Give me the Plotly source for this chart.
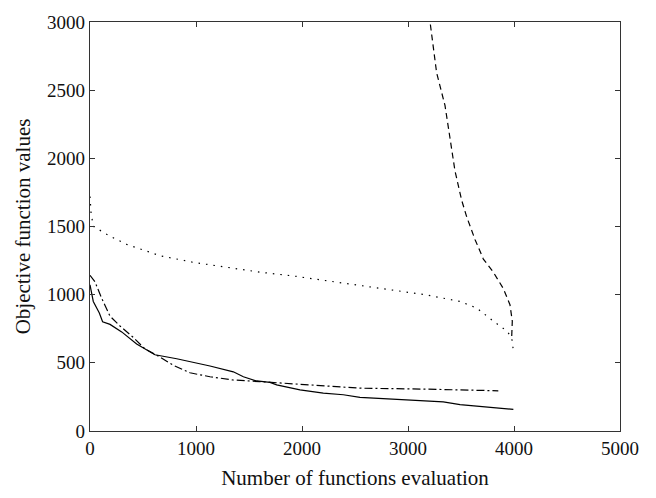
import plotly.graph_objects as go

# Solid line
solid_x = [0, 31, 88, 119, 189, 299, 440, 613, 818, 1132, 1352, 1447, 1572, 1698, 1761, 1918, 1981, 2201, 2390, 2547, 3333, 3491, 3994]
solid_y = [1072, 950, 866, 801, 782, 727, 638, 559, 530, 477, 434, 398, 367, 357, 338, 314, 302, 278, 266, 247, 213, 194, 158]

# Dash-dot line
dashdot_x = [0, 47, 110, 189, 283, 409, 519, 660, 786, 943, 1132, 1352, 1604, 1918, 2233, 2547, 3176, 3852]
dashdot_y = [1142, 1094, 974, 842, 770, 686, 602, 542, 482, 427, 398, 374, 362, 345, 331, 314, 307, 295]

# Dotted line
dotted_x = [0, 10, 31, 189, 346, 660, 975, 1289, 1604, 1918, 2233, 2547, 2925, 3176, 3491, 3648, 3805, 3931, 3978, 3994]
dotted_y = [1720, 1600, 1501, 1429, 1369, 1286, 1237, 1201, 1165, 1137, 1101, 1070, 1027, 998, 950, 902, 806, 734, 686, 590]

# Dashed line
dashed_x = [3180, 3208, 3270, 3349, 3396, 3443, 3506, 3553, 3632, 3711, 3805, 3899, 3962, 3984, 3978]
dashed_y = [3200, 3000, 2628, 2388, 2149, 1909, 1693, 1573, 1405, 1261, 1165, 1045, 926, 806, 686]

x_ticks = [0, 1000, 2000, 3000, 4000, 5000]
y_ticks = [0, 500, 1000, 1500, 2000, 2500, 3000]

FONT = "Liberation Serif"
lw = 1.2

fig = go.Figure()
fig.add_trace(go.Scatter(x=solid_x, y=solid_y, mode="lines",
                         line=dict(color="black", width=lw)))
fig.add_trace(go.Scatter(x=dashdot_x, y=dashdot_y, mode="lines",
                         line=dict(color="black", width=lw, dash="8px,3px,2px,3px")))
fig.add_trace(go.Scatter(x=dotted_x, y=dotted_y, mode="lines",
                         line=dict(color="black", width=lw, dash="1.5px,6px")))
fig.add_trace(go.Scatter(x=dashed_x, y=dashed_y, mode="lines",
                         line=dict(color="black", width=lw, dash="6px,4px")))

axis_common = dict(
    showgrid=False, zeroline=False, showline=True, linecolor="#333", linewidth=1.2,
    mirror="ticks", ticks="inside", ticklen=5, tickcolor="#333", tickwidth=1,
    tickfont=dict(family=FONT, size=19, color="#111"),
)

fig.update_layout(
    width=656, height=498,
    margin=dict(l=90, r=36, t=15, b=66),
    paper_bgcolor="white", plot_bgcolor="white",
    showlegend=False,
    font=dict(family=FONT, size=19, color="#111"),
    xaxis=dict(range=[0, 5000], tickvals=x_ticks, ticktext=[str(v) for v in x_ticks],
               title=dict(text="Number of functions evaluation", standoff=12,
                          font=dict(family=FONT, size=21)),
               **axis_common),
    yaxis=dict(range=[0, 3000], tickvals=y_ticks, ticktext=[str(v) for v in y_ticks],
               title=dict(text="Objective function values", standoff=10,
                          font=dict(family=FONT, size=21)),
               **axis_common),
)

fig.write_html("out.html")
